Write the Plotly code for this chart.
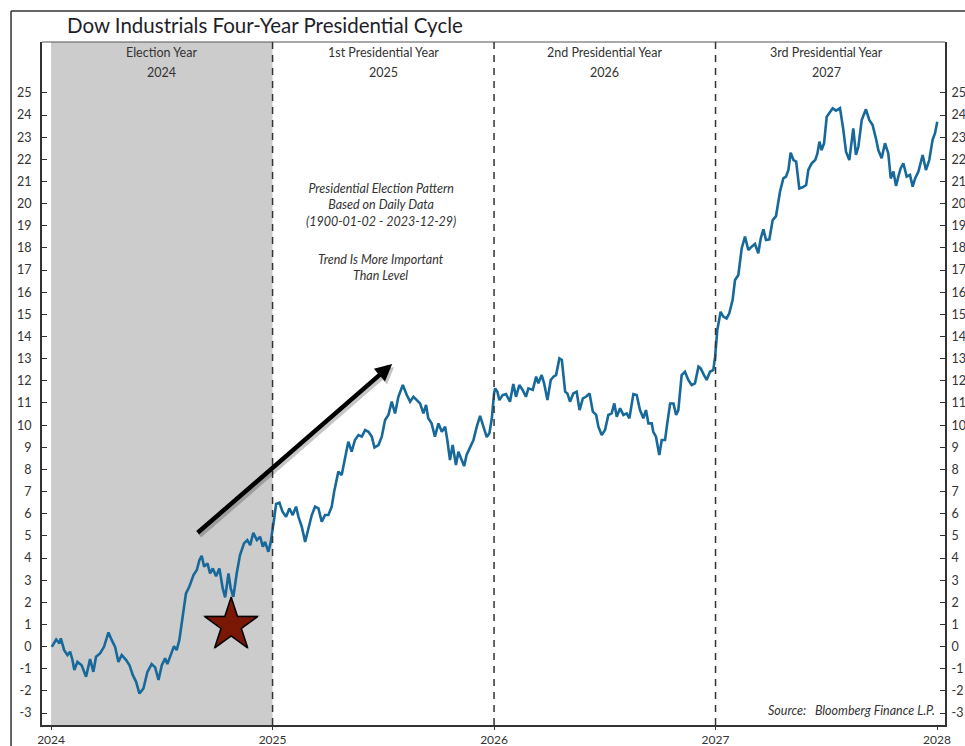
import plotly.graph_objects as go

# Dow Industrials four-year presidential cycle pattern (% change, daily composite),
# mapped onto the 2024-2027 calendar. Decimal years on x.
years = [
    2024.003, 2024.023, 2024.038, 2024.044, 2024.059, 2024.074, 2024.086, 2024.096, 2024.105, 2024.119,
    2024.138, 2024.158, 2024.176, 2024.191, 2024.203, 2024.221, 2024.239, 2024.259, 2024.274, 2024.289,
    2024.304, 2024.319, 2024.339, 2024.354, 2024.369, 2024.384, 2024.399, 2024.417, 2024.435, 2024.454,
    2024.470, 2024.485, 2024.500, 2024.515, 2024.525, 2024.540, 2024.555, 2024.567, 2024.579, 2024.594,
    2024.609, 2024.624, 2024.643, 2024.658, 2024.670, 2024.680, 2024.691, 2024.706, 2024.718, 2024.730,
    2024.745, 2024.760, 2024.775, 2024.786, 2024.801, 2024.811, 2024.823, 2024.838, 2024.853, 2024.871,
    2024.886, 2024.899, 2024.913, 2024.929, 2024.944, 2024.956, 2024.966, 2024.981, 2024.992, 2025.004,
    2025.016, 2025.031, 2025.045, 2025.061, 2025.076, 2025.091, 2025.106, 2025.117, 2025.132, 2025.147,
    2025.162, 2025.177, 2025.192, 2025.207, 2025.222, 2025.237, 2025.252, 2025.267, 2025.278, 2025.297,
    2025.312, 2025.327, 2025.342, 2025.357, 2025.372, 2025.388, 2025.403, 2025.418, 2025.433, 2025.448,
    2025.460, 2025.478, 2025.493, 2025.508, 2025.523, 2025.538, 2025.553, 2025.568, 2025.588, 2025.606,
    2025.621, 2025.636, 2025.651, 2025.666, 2025.681, 2025.693, 2025.703, 2025.718, 2025.733, 2025.749,
    2025.764, 2025.779, 2025.789, 2025.801, 2025.813, 2025.828, 2025.839, 2025.854, 2025.865, 2025.876,
    2025.892, 2025.907, 2025.922, 2025.937, 2025.952, 2025.967, 2025.979, 2025.990, 2026.000, 2026.005,
    2026.015, 2026.024, 2026.039, 2026.054, 2026.072, 2026.087, 2026.099, 2026.114, 2026.129, 2026.144,
    2026.155, 2026.175, 2026.190, 2026.200, 2026.215, 2026.226, 2026.241, 2026.256, 2026.268, 2026.280,
    2026.295, 2026.306, 2026.321, 2026.331, 2026.343, 2026.358, 2026.373, 2026.386, 2026.401, 2026.415,
    2026.431, 2026.446, 2026.461, 2026.471, 2026.486, 2026.501, 2026.516, 2026.531, 2026.543, 2026.554,
    2026.569, 2026.584, 2026.599, 2026.611, 2026.629, 2026.644, 2026.659, 2026.674, 2026.686, 2026.697,
    2026.712, 2026.719, 2026.731, 2026.746, 2026.757, 2026.772, 2026.782, 2026.795, 2026.810, 2026.822,
    2026.832, 2026.847, 2026.862, 2026.877, 2026.892, 2026.907, 2026.923, 2026.933, 2026.948, 2026.960,
    2026.975, 2026.990, 2026.998, 2027.008, 2027.023, 2027.035, 2027.050, 2027.062, 2027.077, 2027.088,
    2027.103, 2027.118, 2027.133, 2027.148, 2027.163, 2027.178, 2027.193, 2027.204, 2027.216, 2027.228,
    2027.243, 2027.258, 2027.273, 2027.291, 2027.306, 2027.318, 2027.329, 2027.339, 2027.352, 2027.364,
    2027.378, 2027.393, 2027.409, 2027.419, 2027.434, 2027.450, 2027.460, 2027.469, 2027.479, 2027.490,
    2027.502, 2027.514, 2027.529, 2027.544, 2027.562, 2027.577, 2027.589, 2027.604, 2027.614, 2027.622,
    2027.634, 2027.645, 2027.660, 2027.679, 2027.694, 2027.709, 2027.724, 2027.735, 2027.750, 2027.765,
    2027.780, 2027.791, 2027.803, 2027.815, 2027.826, 2027.836, 2027.848, 2027.863, 2027.878, 2027.890,
    2027.901, 2027.916, 2027.935, 2027.950, 2027.965, 2027.980, 2027.991, 2028.001,
]
cycle_pct = [
    -0.01, 0.32, 0.14, 0.37, -0.16, -0.38, -0.23, -0.58, -1.06, -0.69,
    -0.84, -1.36, -0.56, -1.14, -0.46, -0.31, -0.01, 0.64, 0.29, -0.01,
    -0.69, -0.38, -0.61, -0.84, -1.29, -1.59, -2.12, -1.89, -1.14, -0.79,
    -0.94, -1.51, -0.84, -0.53, -0.79, -0.38, 0.02, -0.16, 0.29, 1.35,
    2.40, 2.70, 3.23, 3.46, 3.91, 4.10, 3.61, 3.76, 3.30, 3.53,
    3.18, 3.53, 2.63, 2.22, 3.30, 2.63, 2.25, 3.30, 4.13, 4.66,
    4.81, 4.58, 5.14, 4.81, 4.96, 4.51, 4.73, 4.28, 4.73, 5.56,
    6.44, 6.50, 6.09, 5.86, 6.24, 5.94, 6.32, 5.86, 5.41, 4.73,
    5.41, 5.94, 6.32, 6.24, 5.64, 5.94, 5.94, 6.32, 6.99, 7.90,
    7.75, 8.50, 9.25, 8.80, 9.33, 9.55, 9.48, 9.78, 9.70, 9.48,
    8.99, 9.10, 9.48, 10.23, 10.46, 11.06, 10.53, 11.28, 11.81, 11.36,
    11.06, 11.28, 11.13, 10.98, 10.53, 10.91, 10.31, 10.08, 9.48, 10.08,
    9.70, 9.93, 9.33, 8.42, 9.10, 8.20, 8.80, 8.42, 8.15, 8.65,
    9.03, 9.33, 9.93, 10.42, 9.93, 9.46, 9.63, 10.31, 11.43, 11.66,
    11.51, 11.13, 11.36, 11.40, 11.06, 11.86, 11.28, 11.81, 11.59, 11.28,
    11.66, 11.59, 12.19, 11.89, 12.26, 11.89, 11.13, 12.04, 12.19, 12.26,
    13.01, 12.94, 11.51, 11.43, 11.06, 11.43, 11.51, 10.68, 11.21, 11.28,
    11.43, 10.61, 10.46, 9.93, 9.55, 9.78, 10.46, 10.53, 10.98, 10.38,
    10.76, 10.46, 10.53, 10.31, 11.40, 11.36, 10.68, 10.31, 10.68, 10.08,
    10.08, 9.70, 9.48, 8.65, 9.33, 9.33, 10.08, 10.98, 10.98, 10.46,
    10.68, 12.26, 12.41, 12.04, 11.81, 11.89, 12.64, 12.56, 12.26, 12.04,
    12.41, 12.49, 13.09, 14.30, 15.12, 14.90, 14.82, 15.05, 15.65, 16.55,
    16.78, 17.98, 18.51, 17.91, 18.06, 18.18, 17.76, 18.43, 18.84, 18.36,
    18.39, 19.26, 19.44, 20.54, 21.14, 21.22, 21.52, 22.30, 21.97, 21.90,
    20.69, 20.74, 20.84, 21.52, 21.82, 21.97, 22.27, 22.80, 22.42, 22.73,
    23.93, 24.08, 24.31, 24.20, 24.31, 23.33, 22.35, 21.97, 22.73, 23.40,
    22.20, 22.58, 23.78, 24.26, 23.78, 23.55, 22.95, 22.42, 22.05, 22.73,
    22.27, 21.14, 21.45, 20.80, 21.25, 21.60, 21.82, 21.22, 21.30, 20.77,
    21.14, 21.45, 22.20, 21.52, 21.97, 22.88, 23.18, 23.70,
]

# Cycle years and their headers
cycle_years = [2024, 2025, 2026, 2027]
cycle_names = ["Election Year", "1st Presidential Year", "2nd Presidential Year", "3rd Presidential Year"]
x_tick_years = [2024, 2025, 2026, 2027, 2028]
y_ticks = list(range(-3, 26))

election_day = 2024.813      # star marker on the path
election_mark_level = 0.97

LINE = "#16699a"
TXT = "#333333"
FONT = "Lato"

fig = go.Figure()

fig.add_trace(go.Scatter(
    x=years, y=cycle_pct, mode="lines",
    line=dict(color=LINE, width=2.6), hoverinfo="skip", showlegend=False,
))
# invisible twin drives the right-hand value axis
fig.add_trace(go.Scatter(
    x=years, y=cycle_pct, mode="lines", yaxis="y2",
    line=dict(color="rgba(0,0,0,0)", width=0), hoverinfo="skip", showlegend=False,
))
# election marker (with a soft shadow)
fig.add_trace(go.Scatter(
    x=[election_day], y=[election_mark_level], mode="markers",
    marker=dict(symbol="star", size=44, color="rgba(0,0,0,0.25)", line=dict(width=0)),
    hoverinfo="skip", showlegend=False,
))
fig.add_trace(go.Scatter(
    x=[election_day], y=[election_mark_level], mode="markers",
    marker=dict(symbol="star", size=40, color="#7a1705", line=dict(color="#000000", width=1.5)),
    hoverinfo="skip", showlegend=False,
))

shapes = [
    # election-year shading
    dict(type="rect", xref="x", yref="paper", x0=cycle_years[0], x1=cycle_years[1], y0=0, y1=1,
         fillcolor="#cccccc", line=dict(width=0), layer="below"),
    # top edge of plot box
    dict(type="line", xref="paper", yref="paper", x0=0, x1=1, y0=1, y1=1,
         line=dict(color="#555555", width=1.2)),
    # outer frame
    dict(type="line", xref="paper", yref="paper", x0=-0.0343, x1=1.05, y0=1.0454, y1=1.0454,
         line=dict(color="#333333", width=1.5)),
    dict(type="line", xref="paper", yref="paper", x0=-0.0343, x1=-0.0343, y0=-0.06, y1=1.0454,
         line=dict(color="#333333", width=1.5)),
]
for yr in cycle_years[1:]:
    shapes.append(dict(type="line", xref="x", yref="paper", x0=yr, x1=yr, y0=0, y1=1,
                       line=dict(color="#333333", width=1.5, dash="7px,6px")))

ITALIC = dict(family=FONT, size=12.5, color=TXT, style="italic")

annotations = [
    dict(text="Dow Industrials Four-Year Presidential Cycle", xref="paper", yref="paper",
         x=0.0255, y=1.025, xanchor="left", yanchor="middle", showarrow=False,
         font=dict(family=FONT, size=20.5, color="#1e1e28")),
    dict(text="Presidential Election Pattern<br>Based on Daily Data<br>(1900-01-02 - 2023-12-29)",
         xref="x", yref="paper", x=2025.49, y=0.761, xanchor="center", yanchor="middle",
         showarrow=False, font=ITALIC, align="center"),
    dict(text="Trend Is More Important<br>Than Level",
         xref="x", yref="paper", x=2025.49, y=0.670, xanchor="center", yanchor="middle",
         showarrow=False, font=ITALIC, align="center"),
    dict(text="Source:   Bloomberg Finance L.P.", xref="x", yref="paper", x=2028, y=0.0205,
         xanchor="right", yanchor="middle", showarrow=False, font=ITALIC),
    # trend arrow shadow + arrow
    dict(text="", x=2025.54, y=12.76, ax=2024.655, ay=5.08, xref="x", yref="y", axref="x", ayref="y",
         showarrow=True, arrowhead=2, arrowsize=0.75, arrowwidth=4.5, arrowcolor="rgba(0,0,0,0.22)",
         xshift=2, yshift=-3),
    dict(text="", x=2025.54, y=12.76, ax=2024.655, ay=5.08, xref="x", yref="y", axref="x", ayref="y",
         showarrow=True, arrowhead=2, arrowsize=0.75, arrowwidth=4.5, arrowcolor="#000000"),
]
for yr, name in zip(cycle_years, cycle_names):
    annotations.append(dict(text=name, xref="x", yref="paper", x=yr + 0.5, y=0.984,
                            xanchor="center", yanchor="middle", showarrow=False,
                            font=dict(family=FONT, size=12.5, color=TXT)))
    annotations.append(dict(text=str(yr), xref="x", yref="paper", x=yr + 0.5, y=0.956,
                            xanchor="center", yanchor="middle", showarrow=False,
                            font=dict(family=FONT, size=12.5, color=TXT)))

yaxis_common = dict(
    range=[-3.54, 27.3], tickvals=y_ticks, ticktext=[str(v) for v in y_ticks],
    ticks="inside", ticklen=5, tickwidth=1.2, tickcolor="#333333",
    showgrid=False, zeroline=False, showline=True, linecolor="#333333", linewidth=2,
    tickfont=dict(family=FONT, size=12.5, color=TXT), automargin=False,
)

fig.update_layout(
    width=965, height=746,
    margin=dict(l=42, r=20, t=42, b=21, autoexpand=False),
    paper_bgcolor="white", plot_bgcolor="white",
    xaxis=dict(
        range=[2023.959, 2028.036], tickvals=x_tick_years, ticktext=[str(v) for v in x_tick_years],
        ticks="outside", ticklen=3, tickwidth=1.2, tickcolor="#333333",
        showgrid=False, zeroline=False, showline=True, linecolor="#333333", linewidth=2,
        tickfont=dict(family=FONT, size=12, color=TXT), automargin=False,
    ),
    yaxis=dict(side="left", ticklabelstandoff=6, **yaxis_common),
    yaxis2=dict(side="right", overlaying="y", ticklabelstandoff=2, **yaxis_common),
    shapes=shapes,
    annotations=annotations,
    showlegend=False,
)

fig.write_html("out.html", config={"displayModeBar": False})
